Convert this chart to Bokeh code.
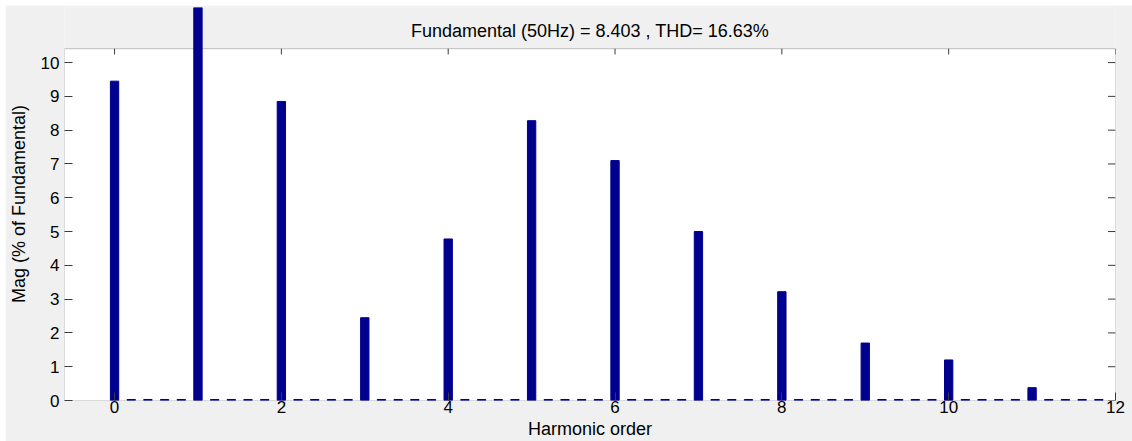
from bokeh.plotting import figure
from bokeh.models import BoxAnnotation, Label, FixedTicker, Range1d
from bokeh.embed import file_html
from bokeh.resources import INLINE

# ---- data ----
harmonic_order = [0, 1, 2, 3, 4, 5, 6, 7, 8, 9, 10, 11]
harmonic_mag = [9.45, 100.0, 8.85, 2.45, 4.78, 8.28, 7.10, 5.00, 3.22, 1.70, 1.20, 0.38]

interharmonic_order = [0.2, 0.4, 0.6, 0.8, 1.2, 1.4, 1.6, 1.8, 2.2, 2.4, 2.6, 2.8,
                       3.2, 3.4, 3.6, 3.8, 4.2, 4.4, 4.6, 4.8, 5.2, 5.4, 5.6, 5.8,
                       6.2, 6.4, 6.6, 6.8, 7.2, 7.4, 7.6, 7.8, 8.2, 8.4, 8.6, 8.8,
                       9.2, 9.4, 9.6, 9.8, 10.2, 10.4, 10.6, 10.8, 11.2, 11.4, 11.6, 11.8]
interharmonic_mag = [0.03, 0.03, 0.03, 0.03, 0.03, 0.03, 0.03, 0.03, 0.03, 0.03, 0.03, 0.03,
                     0.03, 0.03, 0.03, 0.03, 0.03, 0.03, 0.03, 0.03, 0.03, 0.03, 0.03, 0.03,
                     0.03, 0.03, 0.03, 0.03, 0.03, 0.03, 0.03, 0.03, 0.03, 0.03, 0.03, 0.03,
                     0.03, 0.03, 0.03, 0.03, 0.03, 0.03, 0.03, 0.03, 0.03, 0.03, 0.03, 0.03]

x_ticks = [0, 2, 4, 6, 8, 10, 12]
y_ticks = [0, 1, 2, 3, 4, 5, 6, 7, 8, 9, 10]
title_text = "Fundamental (50Hz) = 8.403 , THD= 16.63%"
x_label = "Harmonic order"
y_label = "Mag (% of Fundamental)"

# ---- styling ----
FONT = "Liberation Sans"
BAR = "#00008f"
GRAY = "#f0f0f0"
EDGE = "#3c3c3c"
X_MIN, X_MAX = -0.6, 12.0
Y_TOP = 11.63
BOX_TOP = 10.41

p = figure(width=1127, height=436,
           x_range=Range1d(X_MIN, X_MAX), y_range=Range1d(0, Y_TOP),
           output_backend="svg", toolbar_location=None,
           min_border_top=2, min_border_left=59, min_border_right=17, min_border_bottom=41,
           background_fill_color=GRAY, border_fill_color=GRAY, outline_line_color=None)
p.margin = (5, 0, 0, 5)
p.grid.visible = False

# white axes box
p.add_layout(BoxAnnotation(top=BOX_TOP, fill_color="white", fill_alpha=1.0,
                           line_color=EDGE, line_width=1, level="underlay"))

# bars
p.vbar(x=harmonic_order, top=harmonic_mag, width=0.1,
       fill_color=BAR, line_color=BAR, line_width=1)
p.vbar(x=interharmonic_order, top=interharmonic_mag, width=0.1,
       fill_color=BAR, line_color=BAR, line_width=1)

# tick marks on top and right edges of the box
p.segment(x0=x_ticks, y0=[BOX_TOP] * len(x_ticks), x1=x_ticks,
          y1=[BOX_TOP - 0.17] * len(x_ticks), line_color=EDGE, line_width=1)
p.segment(x0=[X_MAX] * len(y_ticks), y0=y_ticks, x1=[X_MAX - 0.09] * len(y_ticks),
          y1=y_ticks, line_color=EDGE, line_width=1)

# axes
xa = p.xaxis[0]
xa.ticker = FixedTicker(ticks=x_ticks)
ya = p.yaxis[0]
ya.ticker = FixedTicker(ticks=y_ticks)
for ax in (xa, ya):
    ax.axis_line_color = None
    ax.major_tick_in = 8
    ax.major_tick_out = 0
    ax.minor_tick_line_color = None
    ax.major_tick_line_color = EDGE
    ax.major_label_text_font = FONT
    ax.major_label_text_font_size = "17px"
    ax.major_label_text_color = "black"
    ax.axis_label_text_font = FONT
    ax.axis_label_text_font_size = "18px"
    ax.axis_label_text_font_style = "normal"
    ax.axis_label_text_color = "black"
xa.axis_label = x_label
xa.major_label_standoff = 0
xa.axis_label_standoff = 3
ya.axis_label = y_label
ya.major_label_standoff = 5
ya.axis_label_standoff = 9

# title inside the gray band above the axes box
p.add_layout(Label(x=(X_MIN + X_MAX) / 2, y=10.92, text=title_text, text_align="center",
                   text_baseline="middle", text_font=FONT, text_font_size="18px",
                   text_color="black"))

open("out.html", "w").write(file_html(p, INLINE))
